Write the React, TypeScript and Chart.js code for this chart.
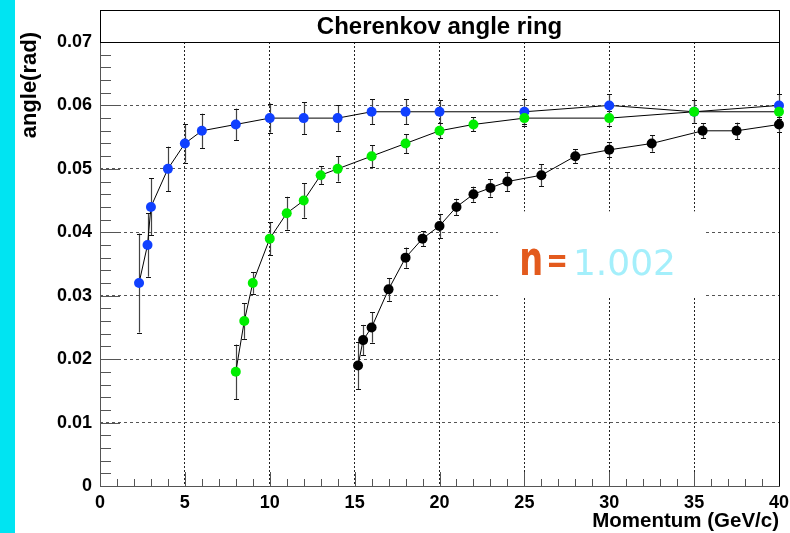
import React, { useEffect, useRef } from "react";
import { Chart, registerables } from "chart.js";

Chart.register(...registerables);

// ---- Data ----
const blueMomentum = [2.3, 2.8, 3, 4, 5, 6, 8, 10, 12, 14, 16, 18, 20, 25, 30, 35, 40];
const blueAngle = [0.032, 0.038, 0.044, 0.05, 0.054, 0.056, 0.057, 0.058, 0.058, 0.058, 0.059, 0.059, 0.059, 0.059, 0.06, 0.059, 0.06];
const blueError = [0.0078, 0.005, 0.0045, 0.0035, 0.003, 0.0027, 0.0025, 0.0023, 0.0025, 0.002, 0.002, 0.002, 0.0018, 0.002, 0.0018, 0.0018, 0.0018];

const greenMomentum = [8, 8.5, 9, 10, 11, 12, 13, 14, 16, 18, 20, 22, 25, 30, 35, 40];
const greenAngle = [0.018, 0.026, 0.032, 0.039, 0.043, 0.045, 0.049, 0.05, 0.052, 0.054, 0.056, 0.057, 0.058, 0.058, 0.059, 0.059];
const greenError = [0.0043, 0.0028, 0.0017, 0.0026, 0.0026, 0.0027, 0.0014, 0.002, 0.0017, 0.0015, 0.0012, 0.0011, 0.0012, 0.0012, 0.0018, 0.0012];

const blackMomentum = [15.2, 15.5, 16, 17, 18, 19, 20, 21, 22, 23, 24, 26, 28, 30, 32.5, 35.5, 37.5, 40];
const blackAngle = [0.019, 0.023, 0.025, 0.031, 0.036, 0.039, 0.041, 0.044, 0.046, 0.047, 0.048, 0.049, 0.052, 0.053, 0.054, 0.056, 0.056, 0.057];
const blackError = [0.0037, 0.0024, 0.0024, 0.0018, 0.0016, 0.0012, 0.0019, 0.0013, 0.0012, 0.0014, 0.0015, 0.0017, 0.0011, 0.0012, 0.0013, 0.0012, 0.0013, 0.0012];

const xMin = 0;
const xMax = 40;
const xStep = 5;
const yMin = 0;
const yMax = 0.07;
const yStep = 0.01;

const chartTitle = "Cherenkov angle ring";
const xTitle = "Momentum (GeV/c)";
const yTitle = "angle(rad)";
const noteSymbol = "n";
const noteEquals = "=";
const noteValue = "1.002";

const FONT = '"Liberation Sans", Arial, Helvetica, sans-serif';

export default function App() {
  const ref = useRef<HTMLCanvasElement>(null);

  useEffect(() => {
    const canvas = ref.current;
    if (!canvas) return;

    const pts = (xs: number[], ys: number[]) => xs.map((x, i) => ({ x, y: ys[i] }));

    const series = [
      { xs: blackMomentum, ys: blackAngle, err: blackError, color: "#000000", order: 1 },
      { xs: greenMomentum, ys: greenAngle, err: greenError, color: "#00ee00", order: 2 },
      { xs: blueMomentum, ys: blueAngle, err: blueError, color: "#1040ff", order: 3 },
    ];

    const decor = {
      id: "decor",
      beforeDraw(chart: any) {
        const c = chart.ctx;
        c.save();
        c.fillStyle = "#ffffff";
        c.fillRect(0, 0, chart.width, chart.height);
        c.fillStyle = "#00e4f2";
        c.fillRect(0, 0, 15, chart.height);
        c.restore();
      },
      beforeDatasetsDraw(chart: any) {
        const c = chart.ctx;
        const xs = chart.scales.x;
        const ys = chart.scales.y;
        const a = chart.chartArea;
        c.save();
        // white box behind the note text
        const bx0 = xs.getPixelForValue(23.45);
        const bx1 = xs.getPixelForValue(35.65);
        const by0 = ys.getPixelForValue(0.0433);
        const by1 = ys.getPixelForValue(0.0297);
        c.fillStyle = "#ffffff";
        c.fillRect(bx0, by0, bx1 - bx0, by1 - by0);

        // ticks
        c.strokeStyle = "#555555";
        c.lineWidth = 1;
        c.beginPath();
        for (let k = 0; k <= 35; k++) {
          const v = yMin + k * 0.002;
          if (v > yMax + 1e-9) break;
          const py = Math.round(ys.getPixelForValue(v)) + 0.5;
          const major = k % 5 === 0;
          c.moveTo(a.left, py);
          c.lineTo(a.left + (major ? 20 : 11), py);
        }
        for (let k = 0; k <= 40; k++) {
          const px = Math.round(xs.getPixelForValue(k)) + 0.5;
          const major = k % 5 === 0;
          c.moveTo(px, a.bottom);
          c.lineTo(px, a.bottom - (major ? 14 : 7));
        }
        c.stroke();

        // frame
        c.strokeStyle = "#555555";
        c.beginPath();
        c.moveTo(Math.round(a.left) + 0.5, a.top);
        c.lineTo(Math.round(a.left) + 0.5, Math.round(a.bottom) + 0.5);
        c.lineTo(Math.round(a.right) + 0.5, Math.round(a.bottom) + 0.5);
        c.stroke();
        c.strokeStyle = "#000000";
        c.beginPath();
        c.moveTo(Math.round(a.right) + 0.5, Math.round(a.bottom) + 0.5);
        c.lineTo(Math.round(a.right) + 0.5, a.top);
        c.stroke();

        // error bars
        chart.data.datasets.forEach((ds: any, i: number) => {
          const meta = chart.getDatasetMeta(i);
          meta.data.forEach((el: any, j: number) => {
            const p = ds.data[j];
            const e = ds.errors[j];
            const px = Math.round(el.x) + 0.5;
            const yTop = ys.getPixelForValue(p.y + e);
            const yBot = ys.getPixelForValue(p.y - e);
            c.strokeStyle = "#444444";
            c.lineWidth = 1.2;
            c.beginPath();
            c.moveTo(px, yTop);
            c.lineTo(px, yBot);
            c.stroke();
            c.strokeStyle = "#111111";
            c.lineWidth = 1;
            c.beginPath();
            c.moveTo(px - 2.5, Math.round(yTop) + 0.5);
            c.lineTo(px + 2.5, Math.round(yTop) + 0.5);
            c.moveTo(px - 2.5, Math.round(yBot) + 0.5);
            c.lineTo(px + 2.5, Math.round(yBot) + 0.5);
            c.stroke();
          });
        });
        c.restore();
      },
      afterDatasetsDraw(chart: any) {
        const c = chart.ctx;
        const xs = chart.scales.x;
        const ys = chart.scales.y;
        const a = chart.chartArea;
        c.save();
        // note text
        let tx = xs.getPixelForValue(24.7);
        const ty = ys.getPixelForValue(0.0332);
        c.textBaseline = "alphabetic";
        c.textAlign = "left";
        c.fillStyle = "#e35a1d";
        c.font = 'bold 48px "DejaVu Sans", sans-serif';
        c.save();
        c.translate(tx, ty);
        c.scale(0.7, 1);
        c.fillText(noteSymbol, 0, 0);
        c.restore();
        tx += c.measureText(noteSymbol).width * 0.7 + 3;
        c.font = 'bold 36px "DejaVu Sans", sans-serif';
        c.save();
        c.translate(tx, ty - 3);
        c.scale(0.72, 1);
        c.fillText(noteEquals, 0, 0);
        c.restore();
        tx += c.measureText(noteEquals).width * 0.72 + 5;
        c.fillStyle = "#a4effb";
        c.font = '36px "DejaVu Sans", sans-serif';
        c.fillText(noteValue, tx, ty);

        // title box
        c.fillStyle = "#ffffff";
        c.fillRect(a.left, 10, a.right - a.left, a.top - 10);
        c.strokeStyle = "#000000";
        c.lineWidth = 1;
        c.strokeRect(Math.round(a.left) + 0.5, 10.5, Math.round(a.right) - Math.round(a.left), Math.round(a.top) - 10);
        c.fillStyle = "#000000";
        c.font = `bold 24px ${FONT}`;
        c.textAlign = "center";
        c.textBaseline = "middle";
        c.fillText(chartTitle, (a.left + a.right) / 2, 27);

        // axis titles
        c.font = `bold 20.5px ${FONT}`;
        c.textAlign = "right";
        c.textBaseline = "middle";
        c.fillText(xTitle, a.right, 521);
        c.save();
        c.translate(30, 32);
        c.rotate(-Math.PI / 2);
        c.font = `bold 22px ${FONT}`;
        c.textAlign = "right";
        c.fillText(yTitle, 0, 0);
        c.restore();
        c.restore();
      },
    };

    const gridColor = (max: number, col: string) => (ctx: any) => {
      const v = ctx.tick ? ctx.tick.value : null;
      if (v === null || Math.abs(v) < 1e-9 || Math.abs(v - max) < 1e-9) return "rgba(0,0,0,0)";
      return col;
    };

    const chart = new Chart(canvas, {
      type: "scatter",
      data: {
        datasets: series.map((s) => ({
          data: pts(s.xs, s.ys),
          errors: s.err,
          showLine: true,
          borderColor: "#000000",
          borderWidth: 1,
          pointRadius: 5,
          pointBorderWidth: 0,
          pointBackgroundColor: s.color,
          pointBorderColor: s.color,
          order: s.order,
          clip: false,
        })) as any,
      },
      plugins: [decor],
      options: {
        animation: false,
        responsive: false,
        events: [],
        layout: { padding: { left: 0, right: 11, top: 42, bottom: 0 } },
        plugins: { legend: { display: false }, tooltip: { enabled: false }, title: { display: false } },
        scales: {
          x: {
            type: "linear",
            min: xMin,
            max: xMax,
            afterFit: (s: any) => {
              s.height = 47;
              s.paddingLeft = 0;
              s.paddingRight = 0;
            },
            ticks: {
              stepSize: xStep,
              color: "#000000",
              padding: 6,
              font: { family: FONT, size: 18, weight: "bold" },
              maxRotation: 0,
              callback: (v: any) => String(v),
            },
            grid: { drawTicks: false, color: gridColor(xMax, "#222222"), lineWidth: 1 },
            border: { display: false, dash: [2, 2] },
          },
          y: {
            type: "linear",
            min: yMin,
            max: yMax,
            afterFit: (s: any) => {
              s.width = 100;
              s.paddingTop = 0;
              s.paddingBottom = 0;
            },
            ticks: {
              stepSize: yStep,
              color: "#000000",
              padding: 8,
              font: { family: FONT, size: 18, weight: "bold" },
              callback: (v: any) => (Math.abs(v) < 1e-9 ? "0" : Number(v).toFixed(2)),
            },
            grid: { drawTicks: false, color: gridColor(yMax, "#555555"), lineWidth: 1 },
            border: { display: false, dash: [3, 3] },
          },
        },
      } as any,
    });

    return () => chart.destroy();
  }, []);

  return (
    <div style={{ position: "absolute", left: 0, top: 0, width: 790, height: 533, background: "#ffffff" }}>
      <canvas ref={ref} width={790} height={533} style={{ display: "block", width: 790, height: 533 }} />
    </div>
  );
}
